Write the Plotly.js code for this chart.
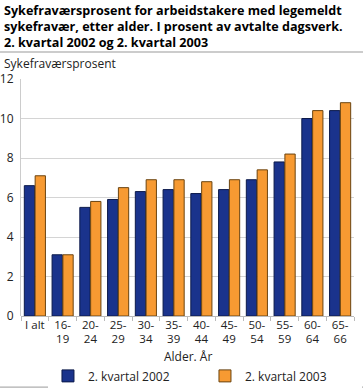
<!DOCTYPE html>
<html><head><meta charset="utf-8">
<script src="https://cdn.plot.ly/plotly-3.0.1.min.js"></script>
<style>body{margin:0;padding:0;background:#fff}#c{width:363px;height:389px}</style>
</head><body><div id="c"></div>
<script>
const categories = ["I alt","16-<br>19","20-<br>24","25-<br>29","30-<br>34","35-<br>39","40-<br>44","45-<br>49","50-<br>54","55-<br>59","60-<br>64","65-<br>66"];
const series2002 = [6.6,3.1,5.5,5.9,6.3,6.4,6.2,6.4,6.9,7.8,10.0,10.4];
const series2003 = [7.1,3.1,5.8,6.5,6.9,6.9,6.8,6.9,7.4,8.2,10.4,10.8];
const seriesNames = ["2. kvartal 2002","2. kvartal 2003"];
const titleLines = ["Sykefraværsprosent for arbeidstakere med legemeldt","sykefravær, etter alder. I prosent av avtalte dagsverk.","2. kvartal 2002 og 2. kvartal 2003"];
const xTitle = "Alder. År";
const yTitle = "Sykefraværsprosent";
const yTicks = [0,2,4,6,8,10,12];

const font = "'Open Sans', 'DejaVu Sans', sans-serif";
const data = [
  {type:'bar', x:categories, y:series2002, name:seriesNames[0],
   marker:{color:'#1a338c', line:{color:'#0c1a4a', width:1}}},
  {type:'bar', x:categories, y:series2003, name:seriesNames[1],
   marker:{color:'#f79a32', line:{color:'#6b4410', width:1}}}
];
const titleY = [1.2911, 1.2236, 1.1561];
const annotations = titleLines.map((t,i)=>({text:'<b>'+t+'</b>', xref:'paper', yref:'paper',
  x:-0.057, y:titleY[i], xanchor:'left', yanchor:'middle', align:'left', showarrow:false,
  font:{family:font, size:12.6, color:'#000'}}));
annotations.push({text:yTitle, xref:'paper', yref:'paper', x:-0.058, y:1.0675,
  xanchor:'left', yanchor:'middle', showarrow:false, font:{size:12, color:'#222'}});
annotations.push({text:xTitle, xref:'paper', yref:'paper', x:0.5, y:-0.172,
  xanchor:'center', yanchor:'middle', showarrow:false, font:{size:12, color:'#222'}});
const layout = {
  width:363, height:389,
  margin:{l:21, r:9, t:79, b:73, autoexpand:false},
  paper_bgcolor:'#fff', plot_bgcolor:'#fff',
  font:{family:font, size:12, color:'#222'},
  barmode:'group', bargap:0.22, bargroupgap:0.05,
  showlegend:true,
  xaxis:{type:'category', showgrid:false, zeroline:false, showline:false, automargin:false,
    ticks:'outside', tickson:'boundaries', ticklen:4, tickcolor:'#bbb',
    tickangle:0, tickfont:{size:11.5, color:'#222'}},
  yaxis:{range:[0,12], tickvals:yTicks, showgrid:true, gridcolor:'#d4d4d4', gridwidth:1, automargin:false,
    zeroline:true, zerolinecolor:'#bbb', showline:true, linecolor:'#ccc', ticks:'',
    tickfont:{size:12, color:'#222'}, ticklabelstandoff:4},
  legend:{orientation:'h', x:0.081, xanchor:'left', yref:'container', y:0.071, yanchor:'top',
    entrywidth:112, font:{size:12, color:'#222'}, traceorder:'normal'},
  annotations:annotations,
  shapes:[
    {type:'line', xref:'paper', yref:'paper', x0:-0.063, x1:1.027, y0:1.1139, y1:1.1139, line:{color:'#999', width:1}},
    {type:'line', xref:'paper', yref:'paper', x0:-0.063, x1:1.027, y0:-0.3, y1:-0.3, line:{color:'#999', width:1}}
  ]
};
Plotly.newPlot('c', data, layout, {staticPlot:true, displayModeBar:false});
</script></body></html>
